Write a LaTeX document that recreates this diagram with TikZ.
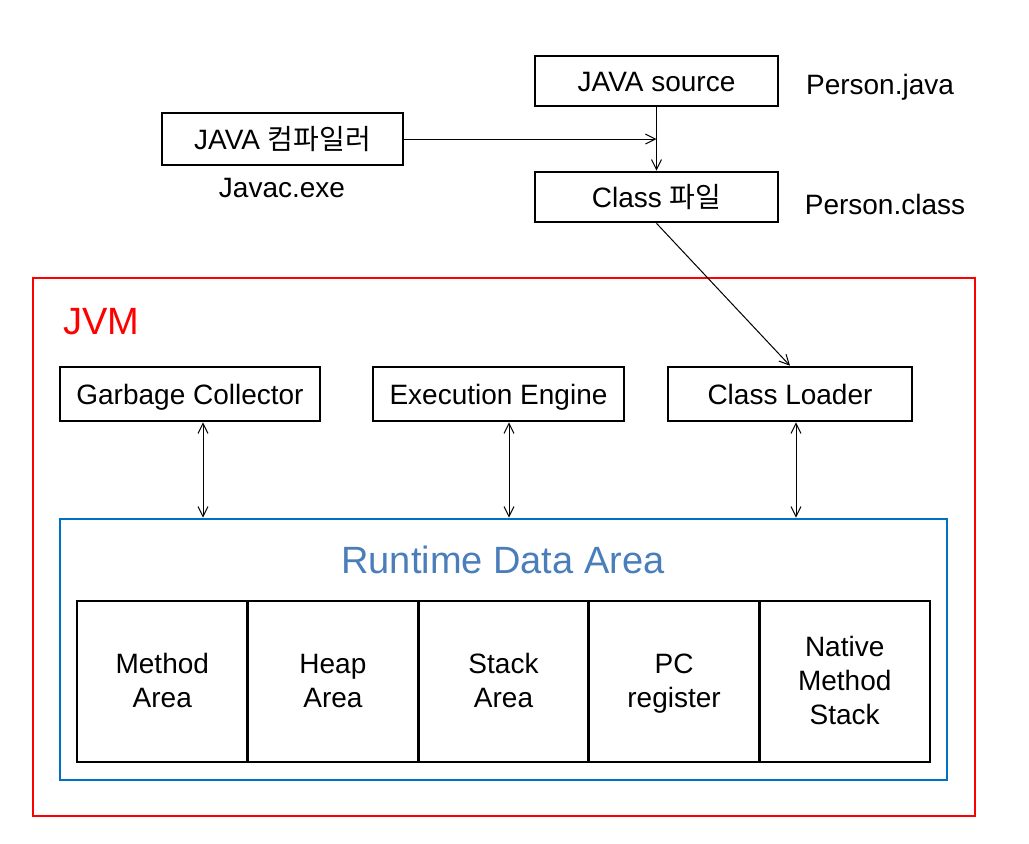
\documentclass[tikz,border=0pt]{standalone}
\usepackage{fontspec}
\setmainfont{Liberation Sans}
\newfontfamily\kr{Noto Sans CJK KR}
\usetikzlibrary{arrows.meta,calc}
\definecolor{jvmred}{RGB}{255,0,0}
\definecolor{rdablue}{RGB}{0,112,192}
\definecolor{rdatext}{RGB}{74,126,187}
\tikzset{
  base/.style={font=\fontsize{14}{17}\selectfont},
  box/.style={base,draw=black,line width=1.3pt,inner sep=0pt,align=center,text height=11.5pt,text depth=1.5pt},
  cell/.style={base,draw=black,line width=1.4pt,inner sep=0pt,align=center,minimum width=85.3pt,minimum height=80.5pt,text height=27.5pt,text depth=1.5pt},
  cellthree/.style={cell,text height=44.5pt},
  lbl/.style={base,inner sep=0pt},
  conn/.style={line width=0.5pt,-{Straight Barb[length=5pt,width=5pt]}},
  dconn/.style={line width=0.5pt,{Straight Barb[length=5pt,width=5pt]}-{Straight Barb[length=5pt,width=5pt]}}
}
\begin{document}
\begin{tikzpicture}[x=0.5pt,y=-0.5pt]
\useasboundingbox (0,0) rectangle (1029,843);
% top part
\node[box,minimum width=121.5pt,minimum height=25pt] (src) at (656.5,81) {JAVA source};
\node[box,minimum width=120.5pt,minimum height=26pt] (comp) at (282.5,139) {JAVA {\kr 컴파일러}};
\node[box,minimum width=121.5pt,minimum height=25pt] (cls) at (656.5,197) {Class {\kr 파일}};
\node[lbl] (pj) at (880,87) {Person.java};
\node[lbl] (pc) at (885,204) {Person.class};
\node[lbl] (jx) at (282,188) {Javac.exe};
% JVM frame
\node[draw=jvmred,line width=1.1pt,minimum width=471pt,minimum height=269pt,inner sep=0pt] (jvm) at (504,547) {};
\node[lbl,text=jvmred,font=\fontsize{19}{22}\selectfont] (jvmt) at (101,322) {JVM};
% engines
\node[box,minimum width=130pt,minimum height=27pt] (gc) at (190,394) {Garbage Collector};
\node[box,minimum width=125.5pt,minimum height=27pt] (ee) at (498.5,394) {Execution Engine};
\node[box,minimum width=122pt,minimum height=27pt] (cl) at (790,394) {Class Loader};
% runtime data area
\node[draw=rdablue,line width=1.3pt,minimum width=443.5pt,minimum height=130.5pt,inner sep=0pt] (rda) at (503.5,649.5) {};
\node[lbl,text=rdatext,font=\fontsize{19}{22}\selectfont] (rdat) at (503,560) {Runtime Data Area};
\node[cell] (c1) at (162.3,681.5) {Method\\Area};
\node[cell] (c2) at (332.9,681.5) {Heap\\Area};
\node[cell] (c3) at (503.5,681.5) {Stack\\Area};
\node[cell] (c4) at (674.1,681.5) {PC\\register};
\node[cellthree] (c5) at (844.7,681.5) {Native\\Method\\Stack};
% connectors
\draw[conn] (src.south) -- (cls.north);
\draw[conn] (comp.east) -- (comp.east -| src.south);
\draw[conn] (cls.south) -- (cl.north);
\draw[dconn] ([xshift=6.5pt]gc.south) -- ([xshift=6.5pt]gc.south |- rda.north);
\draw[dconn] ([xshift=5.25pt]ee.south) -- ([xshift=5.25pt]ee.south |- rda.north);
\draw[dconn] ([xshift=3pt]cl.south) -- ([xshift=3pt]cl.south |- rda.north);
\end{tikzpicture}
\end{document}
